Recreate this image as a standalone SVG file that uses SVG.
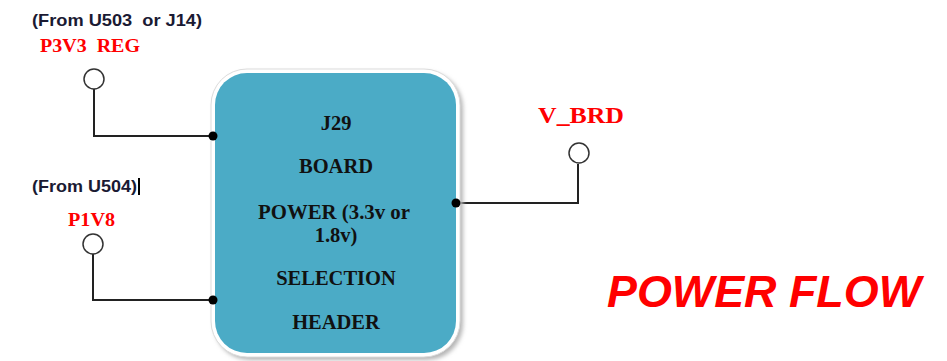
<svg xmlns="http://www.w3.org/2000/svg" width="947" height="361" viewBox="0 0 947 361">
<style>
.src{font-family:"Liberation Sans",Arial,sans-serif;font-weight:bold;font-size:17px;fill:#1a1a33}
.net{font-family:"Liberation Serif","Times New Roman",serif;font-weight:bold;fill:#ff0000}
.lbl{font-family:"Liberation Serif","Times New Roman",serif;font-weight:bold;font-size:20.5px;fill:#111111;text-anchor:middle}
.wire{fill:none;stroke:#222222;stroke-width:2}
.term{fill:#ffffff;stroke:#333333;stroke-width:1.5}
.dot{fill:#000000}
</style>
<defs>
<filter id="sh" x="-10%" y="-10%" width="130%" height="130%">
<feGaussianBlur stdDeviation="2"/>
</filter>
</defs>
<rect width="947" height="361" fill="#ffffff"/>
<g id="connectors">
<polyline class="wire" points="94,89 94,136 213,136"/>
<polyline class="wire" points="93,254 93,300 213,300"/>
<polyline class="wire" points="456,203 578,203 578,164"/>
</g>
<g id="node-j29">
<rect x="214" y="72" width="249" height="288" rx="36" fill="#b5b5b5" filter="url(#sh)"/>
<rect x="211" y="69" width="249" height="288" rx="36" fill="#ffffff" stroke="#dcdcdc" stroke-width="1"/>
<rect x="215" y="73" width="241" height="280" rx="32" fill="#4babc6"/>
<text class="lbl" x="336" y="130">J29</text>
<text class="lbl" x="336" y="173">BOARD</text>
<text class="lbl" x="334" y="219" textLength="152" lengthAdjust="spacingAndGlyphs" xml:space="preserve">POWER (3.3v or</text>
<text class="lbl" x="336" y="242">1.8v)</text>
<text class="lbl" x="336" y="285">SELECTION</text>
<text class="lbl" x="336" y="329">HEADER</text>
</g>
<g id="node-p3v3">
<text class="src" x="32" y="26" textLength="170" lengthAdjust="spacingAndGlyphs" xml:space="preserve">(From U503  or J14)</text>
<text class="net" x="40" y="52" font-size="19" textLength="100" lengthAdjust="spacingAndGlyphs" xml:space="preserve">P3V3  REG</text>
<circle class="term" cx="94" cy="79" r="10"/>
<circle class="dot" cx="213" cy="136" r="4.5"/>
</g>
<g id="node-p1v8">
<text class="src" x="32" y="192" textLength="105" lengthAdjust="spacingAndGlyphs">(From U504)</text>
<rect x="138" y="178" width="2" height="17" fill="#000000"/>
<text class="net" x="68" y="226" font-size="19" textLength="47" lengthAdjust="spacingAndGlyphs">P1V8</text>
<circle class="term" cx="93" cy="244" r="10"/>
<circle class="dot" cx="213" cy="300" r="4.5"/>
</g>
<g id="node-vbrd">
<text class="net" x="538" y="123" font-size="23" textLength="86" lengthAdjust="spacingAndGlyphs">V_BRD</text>
<circle class="term" cx="579" cy="153" r="10"/>
<circle class="dot" cx="456" cy="203" r="4.5"/>
</g>
<text x="607" y="307" font-family="'Liberation Sans',Arial,sans-serif" font-weight="bold" font-style="italic" font-size="44" fill="#ff0000" textLength="314" lengthAdjust="spacingAndGlyphs">POWER FLOW</text>
</svg>
